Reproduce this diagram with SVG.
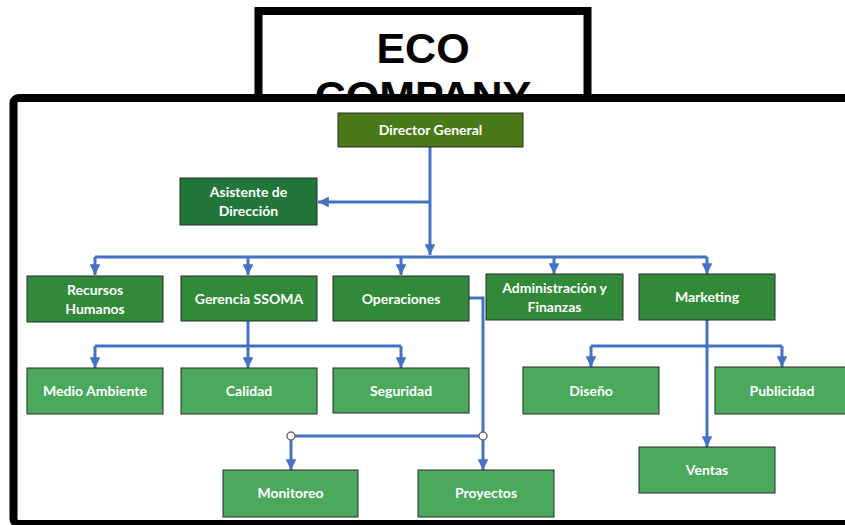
<svg xmlns="http://www.w3.org/2000/svg" width="845" height="525" viewBox="0 0 845 525">
<defs>
<marker id="arr" viewBox="0 0 10 10" refX="10" refY="5" markerWidth="3.6" markerHeight="3.6" orient="auto" markerUnits="strokeWidth">
<path d="M0,0 L10,5 L0,10 z" fill="#4472C4"/>
</marker>
<clipPath id="tclip"><rect x="0" y="0" width="845" height="96"/></clipPath>
<style>
.n rect{stroke:#2b2b2b;stroke-width:1}
.n text{font-family:"Lato","Open Sans",sans-serif;font-weight:bold;font-size:14px;fill:#ffffff;text-anchor:middle}
.top rect{fill:#4A7A17}
.asst rect{fill:#22763A}
.l2 rect{fill:#31893A}
.l3 rect{fill:#4BA95C}
.c{fill:none;stroke:#4472C4;stroke-width:3}
.ca{fill:none;stroke:#4472C4;stroke-width:3;marker-end:url(#arr)}
.dot{fill:#ffffff;stroke:#6b6b6b;stroke-width:1.5}
</style>
</defs>
<rect width="845" height="525" fill="#ffffff"/>
<g id="title" clip-path="url(#tclip)">
<rect x="258.5" y="11" width="329" height="100" fill="#ffffff" stroke="#000000" stroke-width="8"/>
<text x="423" y="63" font-family="Liberation Sans, Arial, sans-serif" font-weight="bold" font-size="43" text-anchor="middle" fill="#000000">ECO</text>
<text x="423" y="111" font-family="Liberation Sans, Arial, sans-serif" font-weight="bold" font-size="43" text-anchor="middle" fill="#000000">COMPANY</text>
</g>
<rect id="frame" x="13.5" y="98" width="900" height="426" rx="5" fill="#ffffff" stroke="#000000" stroke-width="8"/>
<g id="connectors">
<path class="c" d="M430,147 V202"/>
<path class="ca" d="M430,202 H318"/>
<path class="ca" d="M430,202 V255"/>
<path class="c" d="M95,257 H707"/>
<path class="ca" d="M95,257 V275"/>
<path class="ca" d="M248,257 V275"/>
<path class="ca" d="M401,257 V275"/>
<path class="ca" d="M554,257 V274"/>
<path class="ca" d="M707,257 V274"/>
<path class="c" d="M248,321 V346"/>
<path class="c" d="M95,346 H401"/>
<path class="ca" d="M95,346 V368"/>
<path class="ca" d="M248,346 V368"/>
<path class="ca" d="M401,346 V368"/>
<path class="ca" d="M707,320 V447"/>
<path class="c" d="M591,346 H782"/>
<path class="ca" d="M591,346 V367"/>
<path class="ca" d="M782,346 V367"/>
<path class="c" d="M469,298 H483 V436 H291"/>
<path class="ca" d="M291,436 V470"/>
<path class="ca" d="M483,436 V470"/>
<circle class="dot" cx="291" cy="436" r="4"/>
<circle class="dot" cx="483" cy="436" r="4"/>
</g>
<g id="director" class="n top"><rect x="338" y="113" width="185" height="34"/><text x="430.5" y="135">Director General</text></g>
<g id="asistente" class="n asst"><rect x="180" y="178" width="137" height="47"/><text x="248.5" y="197">Asistente de</text><text x="248.5" y="215.5">Dirección</text></g>
<g id="rrhh" class="n l2"><rect x="27" y="276" width="136" height="46"/><text x="95" y="295">Recursos</text><text x="95" y="313.5">Humanos</text></g>
<g id="ssoma" class="n l2"><rect x="181" y="276" width="136" height="45"/><text x="249" y="303.5">Gerencia SSOMA</text></g>
<g id="operaciones" class="n l2"><rect x="333" y="276" width="136" height="45"/><text x="401" y="303.5">Operaciones</text></g>
<g id="admin" class="n l2"><rect x="486" y="274" width="137" height="46"/><text x="554.5" y="293">Administración y</text><text x="554.5" y="311.5">Finanzas</text></g>
<g id="marketing" class="n l2"><rect x="639" y="274" width="136" height="46"/><text x="707" y="301.5">Marketing</text></g>
<g id="medio" class="n l3"><rect x="27" y="368" width="136" height="46"/><text x="95" y="396">Medio Ambiente</text></g>
<g id="calidad" class="n l3"><rect x="181" y="368" width="136" height="46"/><text x="249" y="396">Calidad</text></g>
<g id="seguridad" class="n l3"><rect x="333" y="368" width="136" height="45"/><text x="401" y="396">Seguridad</text></g>
<g id="diseno" class="n l3"><rect x="523" y="367" width="136" height="47"/><text x="591" y="396">Diseño</text></g>
<g id="publicidad" class="n l3"><rect x="715" y="367" width="136" height="47"/><text x="782" y="396">Publicidad</text></g>
<g id="ventas" class="n l3"><rect x="639" y="447" width="136" height="46"/><text x="707" y="474.5">Ventas</text></g>
<g id="monitoreo" class="n l3"><rect x="223" y="470" width="135" height="47"/><text x="290.5" y="497.5">Monitoreo</text></g>
<g id="proyectos" class="n l3"><rect x="418" y="470" width="136" height="47"/><text x="486" y="497.5">Proyectos</text></g>
</svg>
